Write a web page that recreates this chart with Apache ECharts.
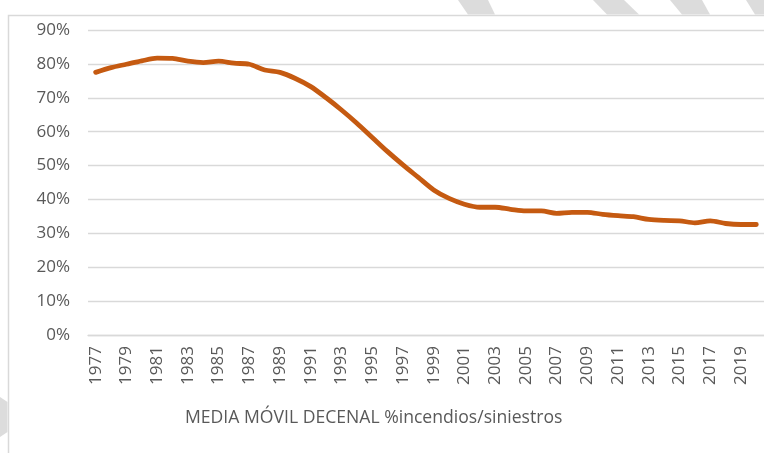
<!DOCTYPE html>
<html>
<head>
<meta charset="utf-8">
<script src="https://cdn.jsdelivr.net/npm/echarts@6/dist/echarts.min.js"></script>
<style>
  html, body { margin: 0; padding: 0; background: #fff; }
  #chart { width: 764px; height: 453px; }
</style>
</head>
<body>
<div id="chart"></div>
<script>
// años 1977-2020
var years = [];
for (var y = 1977; y <= 2020; y++) years.push(String(y));

// media móvil decenal % incendios / siniestros
var mediaMovil = [
  77.5, 78.9, 79.9, 80.9, 81.7, 81.6, 80.8, 80.4, 80.8, 80.2,
  79.9, 78.2, 77.5, 75.7, 73.3, 70.0, 66.4, 62.5, 58.3, 54.1,
  50.2, 46.5, 42.8, 40.3, 38.6, 37.7, 37.7, 37.1, 36.6, 36.6,
  35.9, 36.2, 36.2, 35.6, 35.2, 34.9, 34.1, 33.8, 33.7, 33.1,
  33.7, 32.9, 32.6, 32.6
];

var yTicks = { min: 0, max: 90, step: 10 };
var titulo = 'MEDIA MÓVIL DECENAL %incendios/siniestros';

var gris = '#595959';
var font = '"Open Sans", sans-serif';

var myChart = echarts.init(document.getElementById('chart'));

var option = {
  backgroundColor: '#fff',
  animation: false,
  grid: { left: 88, top: 30, width: 680, bottom: 118 },
  xAxis: {
    type: 'category',
    data: years,
    boundaryGap: true,
    axisLine: { show: true, lineStyle: { color: '#d9d9d9', width: 1.3 } },
    axisTick: { show: false },
    axisLabel: {
      interval: 1,
      rotate: 90,
      margin: 11,
      color: gris,
      fontFamily: font,
      fontSize: 17
    }
  },
  yAxis: {
    type: 'value',
    min: yTicks.min,
    max: yTicks.max,
    interval: yTicks.step,
    axisLine: { show: false },
    axisTick: { show: false },
    splitLine: { lineStyle: { color: '#d9d9d9', width: 1.3 } },
    axisLabel: {
      formatter: '{value}%',
      margin: 18,
      color: gris,
      fontFamily: font,
      fontSize: 17
    }
  },
  series: [{
    type: 'line',
    data: mediaMovil,
    smooth: 0.3,
    showSymbol: false,
    lineStyle: { color: '#c55a11', width: 4.8, cap: 'round', join: 'round' },
    itemStyle: { color: '#c55a11' }
  }],
  graphic: [
    // marco del gráfico
    { type: 'rect', silent: true, shape: { x: 8.5, y: 15.5, width: 800, height: 500 },
      style: { fill: null, stroke: '#d9d9d9', lineWidth: 1.5 } },
    // franjas decorativas de fondo
    { type: 'polygon', silent: true, shape: { points: [[458, 0], [488, 0], [495, 14.5], [468, 14.5]] }, style: { fill: '#dcdcdc' } },
    { type: 'polygon', silent: true, shape: { points: [[593, 0], [624, 0], [639, 14.5], [607, 14.5]] }, style: { fill: '#dcdcdc' } },
    { type: 'polygon', silent: true, shape: { points: [[670, 0], [702, 0], [710, 14.5], [682, 14.5]] }, style: { fill: '#dcdcdc' } },
    { type: 'polygon', silent: true, shape: { points: [[746, 0], [764, 0], [764, 14.5], [755, 14.5]] }, style: { fill: '#dcdcdc' } },
    { type: 'polygon', silent: true, shape: { points: [[0, 397], [7.5, 402], [7.5, 432], [0, 437]] }, style: { fill: '#dcdcdc' } },
    {
      type: 'text',
      left: 185,
      top: 409,
      style: { text: titulo, fill: gris, font: '17.6px "Open Sans", sans-serif' }
    }
  ]
};

myChart.setOption(option);
window.addEventListener('resize', function () {
  myChart.resize();
});
</script>
</body>
</html>
